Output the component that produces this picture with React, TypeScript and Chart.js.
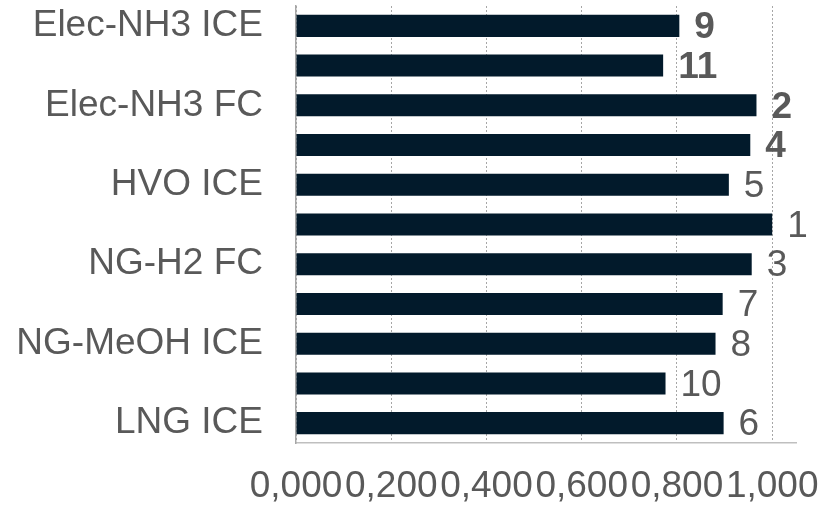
import React, { useEffect, useRef } from "react";
import { Chart, registerables } from "chart.js";

Chart.register(...registerables);

// Pathways, top to bottom; every second row carries no axis label.
const categories = [
  "Elec-NH3 ICE",
  "",
  "Elec-NH3 FC",
  "",
  "HVO ICE",
  "",
  "NG-H2 FC",
  "",
  "NG-MeOH ICE",
  "",
  "LNG ICE",
];

// Normalised score per pathway (1 = best).
const scores = [0.805, 0.771, 0.967, 0.954, 0.909, 1.0, 0.957, 0.896, 0.881, 0.776, 0.898];

// Rank printed at the end of each bar, and whether it is set in bold.
const ranks = ["9", "11", "2", "4", "5", "1", "3", "7", "8", "10", "6"];
const boldRanks = [true, true, true, true, false, false, false, false, false, false, false];

// Value axis ticks.
const xTickValues = [0, 0.2, 0.4, 0.6, 0.8, 1.0];
const xMax = 1.05;

const FONT = '"Liberation Sans", Arial, Helvetica, sans-serif';
const TEXT = "#595959";
const BAR = "#021a2b";

const rankLabels = {
  id: "rankLabels",
  afterDatasetsDraw(chart: any) {
    const meta = chart.getDatasetMeta(0);
    const ctx = chart.ctx as CanvasRenderingContext2D;
    ctx.save();
    ctx.fillStyle = TEXT;
    ctx.textAlign = "left";
    ctx.textBaseline = "middle";
    meta.data.forEach((bar: any, i: number) => {
      ctx.font = `${boldRanks[i] ? "bold " : ""}37px ${FONT}`;
      ctx.fillText(ranks[i], bar.x + 15, bar.y + 2);
    });
    ctx.restore();
  },
};

export default function App() {
  const canvasRef = useRef<HTMLCanvasElement | null>(null);

  useEffect(() => {
    document.body.style.margin = "0";
    const canvas = canvasRef.current;
    if (!canvas) return;

    const chart = new Chart(canvas, {
      type: "bar",
      data: {
        labels: categories,
        datasets: [
          {
            data: scores,
            backgroundColor: BAR,
            borderWidth: 0,
            categoryPercentage: 1,
            barPercentage: 0.555,
          },
        ],
      },
      options: {
        indexAxis: "y",
        responsive: false,
        devicePixelRatio: 1,
        animation: false,
        layout: { padding: { top: 6, right: 26, left: 0, bottom: 0 } },
        plugins: {
          legend: { display: false },
          tooltip: { enabled: false },
        },
        scales: {
          x: {
            min: 0,
            max: xMax,
            afterBuildTicks: (scale: any) => {
              scale.ticks = xTickValues.map((v) => ({ value: v }));
            },
            afterFit: (scale: any) => {
              scale.height = 63;
              scale.paddingLeft = 0;
              scale.paddingRight = 0;
            },
            grid: {
              display: true,
              color: "#a6a6a6",
              lineWidth: 1,
              drawTicks: false,
            },
            border: { display: true, color: "#bfbfbf", width: 1.5, dash: [2, 2] },
            ticks: {
              autoSkip: false,
              maxRotation: 0,
              padding: 22,
              color: TEXT,
              font: { family: FONT, size: 37 },
              callback: (value: any) => Number(value).toFixed(3).replace(".", ","),
            },
          },
          y: {
            afterFit: (scale: any) => {
              scale.width = 296;
              scale.paddingTop = 0;
              scale.paddingBottom = 0;
            },
            grid: { display: false, drawTicks: false },
            border: { display: true, color: "#a6a6a6", width: 1.5 },
            ticks: {
              autoSkip: false,
              padding: 33,
              color: TEXT,
              font: { family: FONT, size: 37 },
            },
          },
        },
      },
      plugins: [rankLabels],
    });

    return () => chart.destroy();
  }, []);

  return (
    <div style={{ position: "fixed", left: 0, top: 0, width: 822, height: 506, background: "#ffffff" }}>
      <canvas ref={canvasRef} width={822} height={506} />
    </div>
  );
}
